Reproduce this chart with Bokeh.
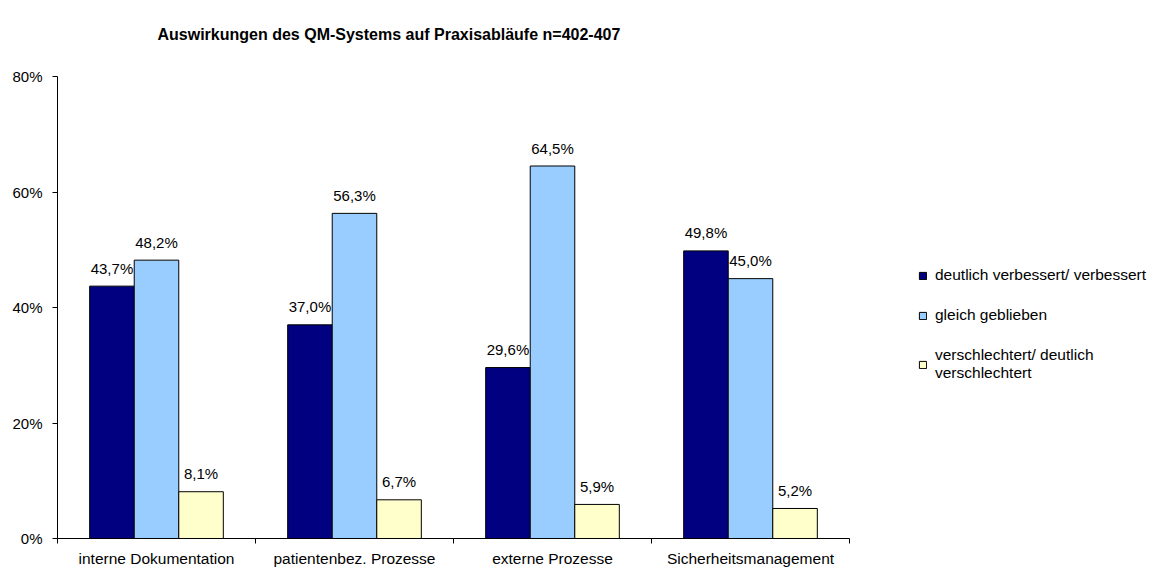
import numpy as np
from bokeh.plotting import figure
from bokeh.models import FixedTicker, Legend, LegendItem, ColumnDataSource
from bokeh.core.properties import value
from bokeh.embed import file_html
from bokeh.resources import INLINE

categories = ["interne Dokumentation", "patientenbez. Prozesse", "externe Prozesse", "Sicherheitsmanagement"]
series_names = ["deutlich verbessert/ verbessert", "gleich geblieben", "verschlechtert/ deutlich\nverschlechtert"]
verbessert = [43.7, 37.0, 29.6, 49.8]
gleich = [48.2, 56.3, 64.5, 45.0]
verschlechtert = [8.1, 6.7, 5.9, 5.2]
y_ticks = [0, 20, 40, 60, 80]
y_tick_labels = ["0%", "20%", "40%", "60%", "80%"]
title_text = "Auswirkungen des QM-Systems auf Praxisabläufe n=402-407"

FONT = "'Liberation Sans', Arial, sans-serif"
colors = ["#000080", "#99CCFF", "#FFFFCC"]
offsets = [-0.225, 0.0, 0.225]
bar_w = 0.225

# layout constants (pixels)
W, H = 1157, 569
LEFT, RIGHT_BORDER = 57, 1
CAT_AREA = 792  # pixel width covered by the category axis
frame_w = W - LEFT - RIGHT_BORDER
n = len(categories)
x_end = n * frame_w / CAT_AREA

p = figure(width=W, height=H, x_range=(0, x_end), y_range=(0, 80),
           output_backend="svg", toolbar_location=None,
           min_border_left=LEFT, min_border_right=RIGHT_BORDER, min_border_top=76, min_border_bottom=30)
p.outline_line_color = None
p.xgrid.visible = False
p.ygrid.visible = False
p.background_fill_color = "white"
p.border_fill_color = "white"

# trailing blank lines lift the title line upward inside its panel
p.title.text = title_text + "\n \n "
p.title.align = "left"
p.title.offset = 100
p.title.text_font = FONT
p.title.text_font_size = "16px"
p.title.text_font_style = "bold"
p.title.text_color = "black"
p.title.standoff = 0

# x axis
xt = FixedTicker(ticks=[i + 0.5 for i in range(n)], minor_ticks=list(range(n + 1)))
p.xaxis.ticker = xt
p.xaxis.bounds = (0, n)
p.xaxis.major_label_overrides = {i + 0.5: c for i, c in enumerate(categories)}
p.xaxis.major_tick_line_color = None
p.xaxis.major_tick_out = 0
p.xaxis.major_tick_in = 0
p.xaxis.minor_tick_out = 5
p.xaxis.minor_tick_in = 0
p.xaxis.minor_tick_line_color = "black"
p.xaxis.axis_line_color = "black"
p.xaxis.major_label_standoff = 6
p.xaxis.major_label_text_font = FONT
p.xaxis.major_label_text_font_size = "15.5px"
p.xaxis.major_label_text_color = "black"

# y axis
p.yaxis.ticker = FixedTicker(ticks=y_ticks, minor_ticks=[])
p.yaxis.major_label_overrides = {t: l for t, l in zip(y_ticks, y_tick_labels)}
p.yaxis.major_tick_out = 5
p.yaxis.major_tick_in = 0
p.yaxis.major_tick_line_color = "black"
p.yaxis.axis_line_color = "black"
p.yaxis.major_label_standoff = 10
p.yaxis.major_label_text_font = FONT
p.yaxis.major_label_text_font_size = "15px"
p.yaxis.major_label_text_color = "black"

items = []
for vals, name, col, off in zip([verbessert, gleich, verschlechtert], series_names, colors, offsets):
    xs = np.arange(n) + 0.5 + off
    src = ColumnDataSource(dict(x=xs, top=vals,
                                lab=[f"{v:.1f}%".replace(".", ",") for v in vals]))
    r = p.vbar(x="x", top="top", width=bar_w, source=src, fill_color=col,
               line_color="black", line_width=1)
    p.text(x="x", y="top", text="lab", source=src, text_align="center",
           text_baseline="alphabetic", y_offset=-18, text_font=value(FONT),
           text_font_size="15px", text_color="black")
    items.append(LegendItem(label=name, renderers=[r]))

legend = Legend(items=items, location=(861, 156), orientation="vertical",
                glyph_width=9, glyph_height=9, label_height=17, label_standoff=8,
                spacing=22, padding=0, margin=0, border_line_color=None,
                background_fill_alpha=0, label_text_font=FONT, label_text_font_size="15.5px",
                label_text_color="black")
p.add_layout(legend, "center")

open("out.html", "w").write(file_html(p, INLINE))
